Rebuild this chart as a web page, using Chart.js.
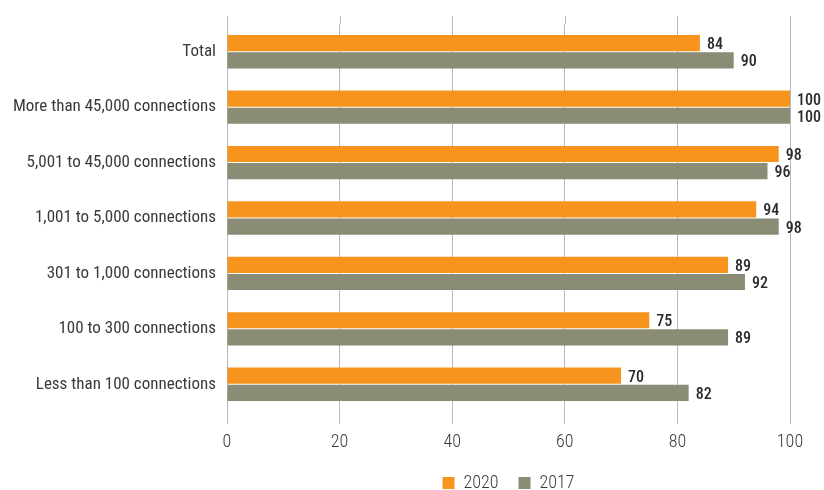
<!DOCTYPE html>
<html lang="en">
  <head>
    <meta charset="UTF-8" />
    <title>Connections 2020 vs 2017</title>
    <script src="https://cdn.jsdelivr.net/npm/chart.js"></script>
    <style>
      html, body { margin: 0; padding: 0; background: #fff; }
      #wrap { width: 824px; height: 490px; }
    </style>
  </head>
  <body>
    <div id="wrap"><canvas id="chart"></canvas></div>
    <script>
      const categories = [
        "Total",
        "More than 45,000 connections",
        "5,001 to 45,000 connections",
        "1,001 to 5,000 connections",
        "301 to 1,000 connections",
        "100 to 300 connections",
        "Less than 100 connections",
      ];
      const values2020 = [84, 100, 98, 94, 89, 75, 70];
      const values2017 = [90, 100, 96, 98, 92, 89, 82];
      const seriesNames = ["2020", "2017"];
      const xTicks = [0, 20, 40, 60, 80, 100];

      const FONT = "'Roboto Condensed', 'Liberation Sans Narrow', sans-serif";
      const GRID = "#b8b8b8";
      const TEXT = "#3a3a3a";

      // value labels at the end of each bar
      const valueLabels = {
        id: "valueLabels",
        afterDatasetsDraw(chart) {
          const ctx = chart.ctx;
          ctx.save();
          ctx.font = "500 16px " + FONT;
          ctx.fillStyle = "#2a2a2a";
          ctx.textBaseline = "middle";
          ctx.textAlign = "left";
          chart.data.datasets.forEach((ds, i) => {
            chart.getDatasetMeta(i).data.forEach((bar, j) => {
              ctx.fillText(ds.data[j], bar.x + 7, bar.y + 2);
            });
          });
          ctx.restore();
        },
      };

      // gridlines poke a little above the plot area
      const gridTop = {
        id: "gridTop",
        beforeDatasetsDraw(chart) {
          const ctx = chart.ctx;
          const xs = chart.scales.x;
          ctx.save();
          ctx.strokeStyle = GRID;
          ctx.lineWidth = 1;
          xs.ticks.forEach((t) => {
            const px = Math.round(xs.getPixelForValue(t.value)) + 0.5;
            ctx.beginPath();
            ctx.moveTo(px, chart.chartArea.top - 8);
            ctx.lineTo(px, chart.chartArea.top);
            ctx.stroke();
          });
          ctx.restore();
        },
      };

      new Chart(document.getElementById("chart"), {
        type: "bar",
        data: {
          labels: categories,
          datasets: [
            {
              label: seriesNames[0],
              data: values2020,
              backgroundColor: "#f7941d",
              categoryPercentage: 0.62,
              barPercentage: 0.94,
            },
            {
              label: seriesNames[1],
              data: values2017,
              backgroundColor: "#8a8c75",
              categoryPercentage: 0.62,
              barPercentage: 0.94,
            },
          ],
        },
        options: {
          indexAxis: "y",
          responsive: true,
          maintainAspectRatio: false,
          animation: false,
          layout: { padding: { top: 24, right: 34, left: 0, bottom: 0 } },
          plugins: {
            legend: {
              position: "bottom",
              fullSize: false,
              maxHeight: 36,
              labels: {
                font: { family: FONT, size: 18, weight: 300 },
                color: TEXT,
                boxWidth: 12,
                boxHeight: 12,
                padding: 20,
              },
            },
            tooltip: { enabled: false },
          },
          scales: {
            x: {
              min: 0,
              max: 100,
              afterBuildTicks: (s) => {
                s.ticks = xTicks.map((v) => ({ value: v }));
              },
              afterFit: (s) => {
                s.height = 42;
              },
              border: { display: false },
              grid: { color: GRID, tickLength: 12, drawTicks: true },
              ticks: {
                font: { family: FONT, size: 18, weight: 300 },
                color: TEXT,
                padding: 8,
              },
            },
            y: {
              afterFit: (s) => {
                s.width = 227;
              },
              border: { display: true, color: GRID },
              grid: { display: false },
              ticks: {
                font: { family: FONT, size: 17, weight: 400 },
                color: TEXT,
                padding: 3,
              },
            },
          },
        },
        plugins: [valueLabels, gridTop],
      });
    </script>
  </body>
</html>
